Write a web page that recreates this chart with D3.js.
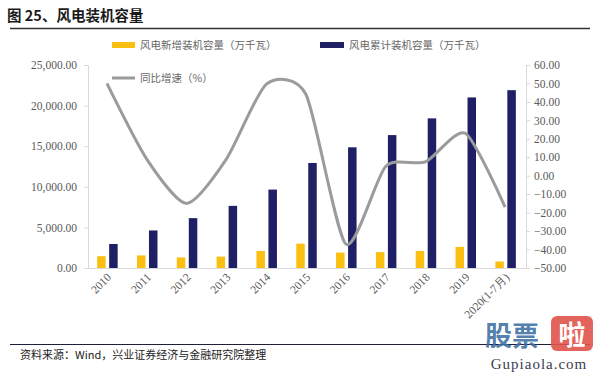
<!DOCTYPE html>
<html>
<head>
<meta charset="utf-8">
<script src="https://cdn.jsdelivr.net/npm/d3@7"></script>
<style>
  body { margin: 0; background: #fff; }
  svg { display: block; }
  .num { font-family: "Liberation Serif", "DejaVu Serif", serif; font-size: 11.5px; fill: #595959; }
  .cn { font-family: "Noto Sans CJK SC", sans-serif; }
</style>
</head>
<body>
<script>
var width = 600, height = 372;
var years = ["2010", "2011", "2012", "2013", "2014", "2015", "2016", "2017", "2018", "2019", "2020(1-7月)"];
var newCap = [1450, 1550, 1300, 1400, 2100, 3000, 1900, 1950, 2100, 2600, 800];
var totalCap = [2958, 4623, 6142, 7652, 9657, 12934, 14864, 16367, 18426, 21005, 21900];
var growth = [50, 9, -15, 9, 49.5, 44, -37, 5, 7.5, 23, -17];
var leftTicks = [0, 5000, 10000, 15000, 20000, 25000];
var rightTicks = [-50, -40, -30, -20, -10, 0, 10, 20, 30, 40, 50, 60];

var plot = { left: 88, right: 526, top: 65, bottom: 268 };
var gold = "#FABF10", navy = "#1F1F66", grayLine = "#9B9B9B", axisCol = "#D9D9D9";

var svg = d3.select("body").append("svg")
    .attr("width", width)
    .attr("height", height);

// 标题
svg.append("text")
    .attr("class", "cn")
    .attr("x", 7).attr("y", 21)
    .attr("font-size", 14.5).attr("font-weight", "bold")
    .attr("fill", "#1a1a1a")
    .text("图 25、风电装机容量");
svg.append("line")
    .attr("x1", 10).attr("x2", 590).attr("y1", 28.5).attr("y2", 28.5)
    .attr("stroke", "#333").attr("stroke-width", 1.3);

var x = d3.scaleBand().domain(years).range([plot.left, plot.right]).paddingInner(0).paddingOuter(0);
var yL = d3.scaleLinear().domain([0, 25000]).range([plot.bottom, plot.top]);
var yR = d3.scaleLinear().domain([-50, 60]).range([plot.bottom, plot.top]);

// 左轴
var axisL = svg.append("g")
    .attr("transform", "translate(" + plot.left + ",0)")
    .call(d3.axisLeft(yL).tickValues(leftTicks).tickSize(4).tickPadding(7).tickFormat(d3.format(",.2f")));
axisL.select(".domain").attr("stroke", axisCol);
axisL.selectAll(".tick line").attr("stroke", axisCol);
axisL.selectAll("text").attr("class", "num");

// 右轴
var axisR = svg.append("g")
    .attr("transform", "translate(" + plot.right + ",0)")
    .call(d3.axisRight(yR).tickValues(rightTicks).tickSize(4).tickPadding(4).tickFormat(d3.format(".2f")));
axisR.select(".domain").attr("stroke", axisCol);
axisR.selectAll(".tick line").attr("stroke", axisCol);
axisR.selectAll("text").attr("class", "num");

// 底轴
var axisB = svg.append("g")
    .attr("transform", "translate(0," + plot.bottom + ")")
    .call(d3.axisBottom(x).tickSize(0).tickPadding(0));
axisB.select(".domain").attr("stroke", axisCol);
axisB.selectAll("text")
    .attr("class", "num")
    .attr("text-anchor", "end")
    .attr("dy", 0)
    .attr("transform", "translate(4,10) rotate(-45)");

// 柱
var bw = 8.5, gap = 2.5;
svg.append("g").selectAll("rect").data(newCap).join("rect")
    .attr("x", function (d, i) { return x(years[i]) + x.bandwidth() / 2 - gap / 2 - bw - 1; })
    .attr("y", function (d) { return yL(d); })
    .attr("width", bw)
    .attr("height", function (d) { return plot.bottom - yL(d); })
    .attr("fill", gold);
svg.append("g").selectAll("rect").data(totalCap).join("rect")
    .attr("x", function (d, i) { return x(years[i]) + x.bandwidth() / 2 + gap / 2; })
    .attr("y", function (d) { return yL(d); })
    .attr("width", bw)
    .attr("height", function (d) { return plot.bottom - yL(d); })
    .attr("fill", navy);

// 同比增速线
var line = d3.line()
    .x(function (d, i) { return x(years[i]) + x.bandwidth() / 2 - 1; })
    .y(function (d) { return yR(d); })
    .curve(d3.curveCardinal.tension(0.3));
svg.append("path")
    .attr("d", line(growth))
    .attr("fill", "none")
    .attr("stroke", grayLine)
    .attr("stroke-width", 3);

// 图例
var leg = svg.append("g").attr("class", "cn").attr("font-size", 10.5).attr("fill", "#666");
leg.append("rect").attr("x", 112).attr("y", 42).attr("width", 23).attr("height", 6).attr("fill", gold);
leg.append("text").attr("x", 140).attr("y", 49).text("风电新增装机容量（万千瓦）");
leg.append("rect").attr("x", 320).attr("y", 42).attr("width", 24).attr("height", 6).attr("fill", navy);
leg.append("text").attr("x", 349).attr("y", 49).text("风电累计装机容量（万千瓦）");
leg.append("line").attr("x1", 112).attr("x2", 135).attr("y1", 78).attr("y2", 78)
    .attr("stroke", grayLine).attr("stroke-width", 3);
leg.append("text").attr("x", 140).attr("y", 82).text("同比增速（%）");

// 资料来源
svg.append("line")
    .attr("x1", 10).attr("x2", 590).attr("y1", 344.5).attr("y2", 344.5)
    .attr("stroke", "#1f1f3a").attr("stroke-width", 1.2);
svg.append("text")
    .attr("class", "cn")
    .attr("x", 20).attr("y", 359)
    .attr("font-size", 11).attr("fill", "#222")
    .text("资料来源：Wind，兴业证券经济与金融研究院整理");

// 水印
var wm = svg.append("g");
wm.append("text").attr("class", "cn").attr("x", 485).attr("y", 346)
    .attr("font-size", 27).attr("font-weight", "bold").attr("fill", "#3d6fa3").attr("fill-opacity", 0.9)
    .text("股票");
wm.append("rect").attr("x", 551).attr("y", 316).attr("width", 42).attr("height", 35).attr("rx", 6)
    .attr("fill", "#e0534a").attr("fill-opacity", 0.9);
wm.append("text").attr("class", "cn").attr("x", 572).attr("y", 345).attr("text-anchor", "middle")
    .attr("font-size", 27).attr("font-weight", "bold").attr("fill", "#fff")
    .text("啦");
wm.append("text").attr("x", 539).attr("y", 369).attr("text-anchor", "middle")
    .attr("font-family", "Liberation Serif, serif").attr("font-size", 15).attr("fill", "#3c3c50")
    .attr("letter-spacing", 1)
    .text("Gupiaola.com");
</script>
</body>
</html>
